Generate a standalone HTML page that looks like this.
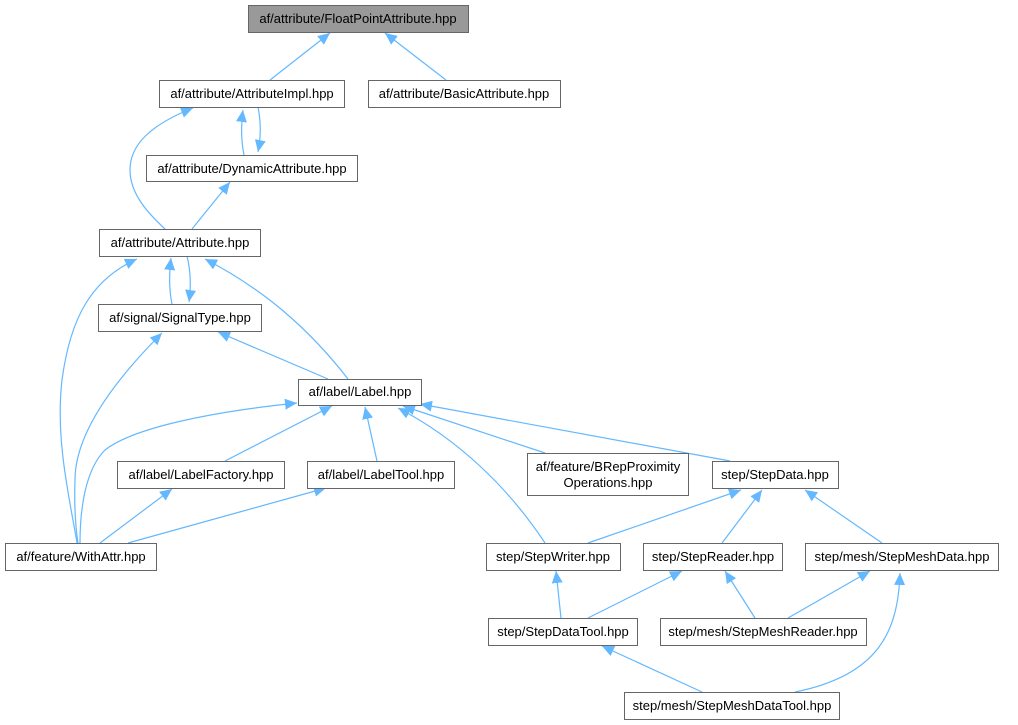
<!DOCTYPE html>
<html><head><meta charset="utf-8"><style>
html,body{margin:0;padding:0;background:#fff;}
svg{display:block;}
text{font-family:"Liberation Sans",sans-serif;font-size:13px;fill:#000;}
</style></head><body>
<svg width="1018" height="725" viewBox="0 0 1018 725" xmlns="http://www.w3.org/2000/svg">
<defs>
<marker id="a" markerWidth="12" markerHeight="11" refX="12" refY="5.5" orient="auto-start-reverse" markerUnits="userSpaceOnUse">
<path d="M0,0 L12,5.5 L0,11 z" fill="#63b8ff"/>
</marker>
</defs>
<g fill="none" stroke="#63b8ff" stroke-width="1.2" marker-start="url(#a)">
<path d="M330,33 L270,80"/>
<path d="M385,33 L446,80"/>
<path d="M193,108 C150,125 130,145 130,170 C130,195 150,215 165,229"/>
<path d="M243,110 C241,125 241,140 244,155"/>
<path d="M258,152 C261,137 261,122 258,107"/>
<path d="M230,182 L192,229"/>
<path d="M171,258 C169,275 169,290 172,304"/>
<path d="M189,302 C191,287 191,272 187,256"/>
<path d="M205,259 C265,290 310,330 348,379"/>
<path d="M137,259 C90,280 70,320 62,380 C55,440 70,500 77,543"/>
<path d="M218,332 L328,379"/>
<path d="M162,333 C120,375 75,430 75,480 C74,510 76,530 78,543"/>
<path d="M297,403 C200,413 130,430 105,450 C85,470 80,510 80,543"/>
<path d="M332,406 L225,461"/>
<path d="M365,407 L377,461"/>
<path d="M403,406 L545,453"/>
<path d="M420,404 L730,461"/>
<path d="M398,408 C460,440 510,490 545,543"/>
<path d="M172,489 L100,543"/>
<path d="M326,488 L128,543"/>
<path d="M741,490 L588,543"/>
<path d="M762,490 L722,543"/>
<path d="M805,490 L882,543"/>
<path d="M556,571 L561,618"/>
<path d="M682,571 L588,618"/>
<path d="M725,571 L755,618"/>
<path d="M870,571 L788,618"/>
<path d="M602,646 L702,692"/>
<path d="M900,573 C898,630 880,675 795,692"/>
</g>
<g stroke="#666" stroke-width="1" fill="#fff">
<rect x="248.5" y="5.5" width="220" height="27" fill="#999"/>
<rect x="159.5" y="80.5" width="185" height="27"/>
<rect x="368.5" y="80.5" width="192" height="27"/>
<rect x="146.5" y="155.5" width="211" height="26"/>
<rect x="99.5" y="229.5" width="161" height="27"/>
<rect x="98.5" y="304.5" width="163" height="27"/>
<rect x="298.5" y="379.5" width="123" height="26"/>
<rect x="117.5" y="461.5" width="167" height="27"/>
<rect x="307.5" y="461.5" width="147" height="27"/>
<rect x="527.5" y="453.5" width="161" height="42"/>
<rect x="712.5" y="461.5" width="126" height="27"/>
<rect x="5.5" y="543.5" width="151" height="27"/>
<rect x="486.5" y="543.5" width="134" height="27"/>
<rect x="643.5" y="543.5" width="139" height="27"/>
<rect x="805.5" y="543.5" width="193" height="27"/>
<rect x="488.5" y="618.5" width="149" height="27"/>
<rect x="660.5" y="618.5" width="206" height="27"/>
<rect x="624.5" y="692.5" width="215" height="27"/>
</g>
<g text-anchor="middle">
<text x="358" y="23">af/attribute/FloatPointAttribute.hpp</text>
<text x="252" y="98">af/attribute/AttributeImpl.hpp</text>
<text x="464" y="98">af/attribute/BasicAttribute.hpp</text>
<text x="252" y="173">af/attribute/DynamicAttribute.hpp</text>
<text x="180" y="247">af/attribute/Attribute.hpp</text>
<text x="180" y="322">af/signal/SignalType.hpp</text>
<text x="360" y="396">af/label/Label.hpp</text>
<text x="201" y="479">af/label/LabelFactory.hpp</text>
<text x="381" y="479">af/label/LabelTool.hpp</text>
<text x="608" y="471">af/feature/BRepProximity</text>
<text x="608" y="487">Operations.hpp</text>
<text x="775" y="479">step/StepData.hpp</text>
<text x="81" y="561">af/feature/WithAttr.hpp</text>
<text x="553" y="561">step/StepWriter.hpp</text>
<text x="713" y="561">step/StepReader.hpp</text>
<text x="902" y="561">step/mesh/StepMeshData.hpp</text>
<text x="563" y="636">step/StepDataTool.hpp</text>
<text x="763" y="636">step/mesh/StepMeshReader.hpp</text>
<text x="732" y="710">step/mesh/StepMeshDataTool.hpp</text>
</g>
</svg>
</body></html>
